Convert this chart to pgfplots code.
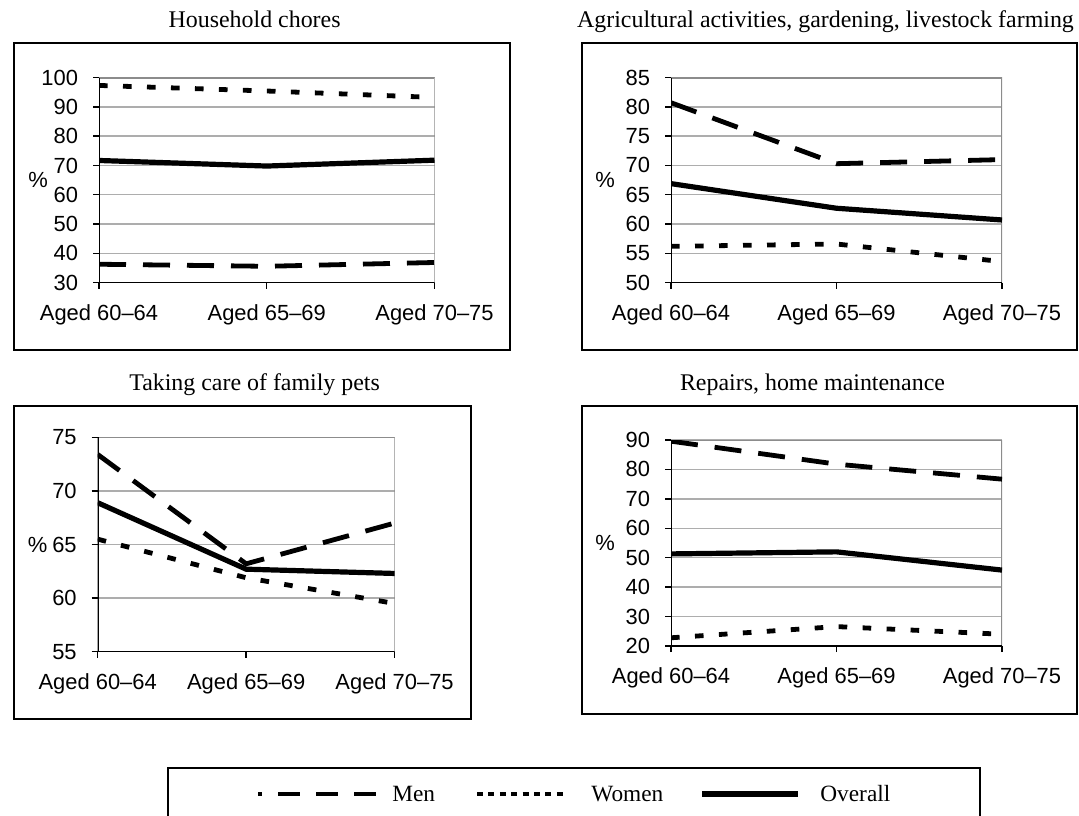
\documentclass[border=0pt]{standalone}
\usepackage{fontspec}
\setmainfont{Liberation Serif}
\setsansfont{Liberation Sans}
\usepackage{pgfplots}
\pgfplotsset{compat=1.18}
\definecolor{bord}{HTML}{8C8C8C}
\definecolor{gridc}{HTML}{ADADAD}
\pgfplotsset{
  panel/.style={
    scale only axis,
    xmin=0, xmax=2,
    xtick={0,1,2},
    xticklabels={Aged 60–64, Aged 65–69, Aged 70–75},
    tick pos=left,
    tick align=outside,
    major tick length=3bp,
    tick style={black, line width=0.7bp},
    ymajorgrids,
    grid style={gridc, line width=0.7bp},
    axis line style={draw=none},
    /pgf/number format/assume math mode=true,
    ticklabel style={font=\sffamily\fontsize{11}{13}\selectfont},
    xticklabel style={yshift=-4.5bp},
    yticklabel style={xshift=-4bp},
    ylabel={\%},
    ylabel style={rotate=-90, font=\sffamily\fontsize{11}{13}\selectfont,
      at={(axis description cs:0,0.5)}, anchor=center},
  },
  men/.style={black, line width=2.4bp, dash pattern=on 13.5bp off 8.5bp},
  women/.style={black, line width=2.4bp, dash pattern=on 4.3bp off 7.7bp},
  overall/.style={black, line width=2.6bp},
}
\newcommand{\frameaxis}{%
  \draw[bord, line width=1bp] (rel axis cs:0,1) -- (rel axis cs:1,1) -- (rel axis cs:1,0);
  \draw[black, line width=0.8bp] (rel axis cs:0,1) -- (rel axis cs:0,0) -- (rel axis cs:1,0);
}
\begin{document}
\begin{tikzpicture}[x=0.5bp, y=-0.5bp]
% panel boxes
\draw[black, line width=1bp] (14.4,42.5) rectangle (510,350);
\draw[black, line width=1bp] (581.6,42.5) rectangle (1077,350);
\draw[black, line width=1bp] (14.4,406) rectangle (470.6,719);
\draw[black, line width=1bp] (581.6,406) rectangle (1077,714);
% titles
\node[anchor=base, inner sep=0, font=\fontsize{12}{14}\selectfont] at (254.6,27) {Household chores};
\node[anchor=base, inner sep=0, font=\fontsize{12}{14}\selectfont] at (825.5,27) {Agricultural activities, gardening, livestock farming};
\node[anchor=base, inner sep=0, font=\fontsize{12}{14}\selectfont] at (254.6,390) {Taking care of family pets};
\node[anchor=base, inner sep=0, font=\fontsize{12}{14}\selectfont] at (812.5,390.5) {Repairs, home maintenance};

% Panel 1
\begin{axis}[panel, at={(49.5bp,-141.35bp)}, anchor=south west,
  width=167.75bp, height=102.6bp,
  ymin=30, ymax=100, ytick={30,40,...,100},
  ylabel style={xshift=-30.5bp}]
\frameaxis
\addplot[men] coordinates {(0,36.3) (1,35.6) (2,36.9)};
\addplot[women] coordinates {(0,97.3) (1,95.4) (2,93.2)};
\addplot[overall] coordinates {(0,71.7) (1,69.8) (2,71.8)};
\end{axis}

% Panel 2
\begin{axis}[panel, at={(335.5bp,-141.35bp)}, anchor=south west,
  width=165.5bp, height=102.6bp,
  ymin=50, ymax=85, ytick={50,55,...,85},
  ylabel style={xshift=-33bp}]
\frameaxis
\addplot[men] coordinates {(0,80.7) (1,70.3) (2,71.0)};
\addplot[women] coordinates {(0,56.2) (1,56.6) (2,53.6)};
\addplot[overall] coordinates {(0,66.9) (1,62.7) (2,60.7)};
\end{axis}

% Panel 3
\begin{axis}[panel, at={(48.85bp,-325.85bp)}, anchor=south west,
  width=148.45bp, height=107.2bp,
  ymin=55, ymax=75, ytick={55,60,...,75},
  ylabel style={xshift=-30bp}]
\frameaxis
\addplot[men] coordinates {(0,73.4) (1,63.2) (2,67.0)};
\addplot[women] coordinates {(0,65.5) (1,61.9) (2,59.5)};
\addplot[overall] coordinates {(0,68.9) (1,62.7) (2,62.3)};
\end{axis}

% Panel 4
\begin{axis}[panel, at={(335.5bp,-323bp)}, anchor=south west,
  width=165.5bp, height=103bp,
  ymin=20, ymax=90, ytick={20,30,...,90},
  ylabel style={xshift=-33bp}]
\frameaxis
\addplot[men] coordinates {(0,89.6) (1,81.8) (2,76.7)};
\addplot[women] coordinates {(0,22.8) (1,26.6) (2,24.0)};
\addplot[overall] coordinates {(0,51.3) (1,52.0) (2,45.8)};
\end{axis}

% Legend
\draw[black, line width=1bp] (168,768) rectangle (980,860);
\draw[black, line width=2.4bp, dash pattern=on 11bp off 8bp, dash phase=9bp] (258,794) -- (379,794);
\node[anchor=base west, inner sep=0, font=\fontsize{11.7}{14}\selectfont] at (392,801.7) {Men};
\draw[black, line width=2.4bp, dash pattern=on 3bp off 2.7bp] (477,794) -- (568,794);
\node[anchor=base west, inner sep=0, font=\fontsize{11.7}{14}\selectfont] at (591,801.7) {Women};
\draw[black, line width=2.6bp] (702,794) -- (798,794);
\node[anchor=base west, inner sep=0, font=\fontsize{11.7}{14}\selectfont] at (820,801.7) {Overall};

\pgfresetboundingbox
\path[use as bounding box] (0,0) rectangle (1079,816);
\end{tikzpicture}
\end{document}
